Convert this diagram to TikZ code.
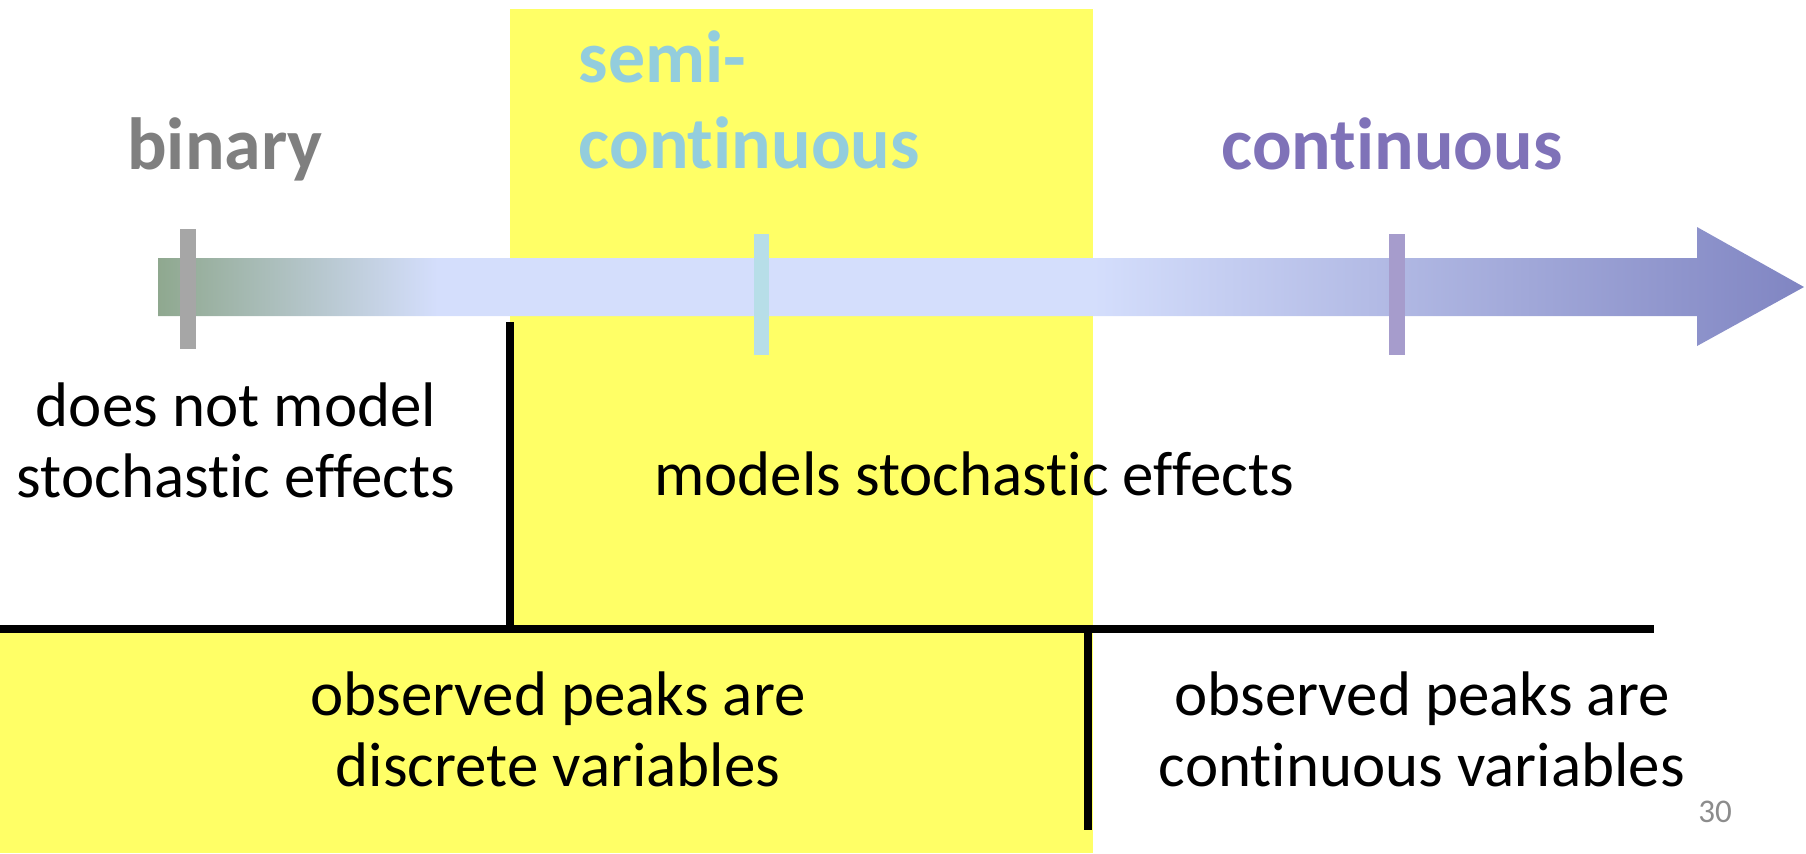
\documentclass[tikz,border=0pt]{standalone}
\usepackage{fontspec}
\setmainfont{Carlito}[Ligatures={NoCommon,NoRequired,NoContextual}]
\usepackage{tikz}
\usetikzlibrary{positioning, calc}
\definecolor{hdgray}{RGB}{127,127,127}
\definecolor{hdaqua}{RGB}{147,205,221}
\definecolor{hdpurple}{RGB}{127,114,184}
\definecolor{hiyellow}{RGB}{255,255,102}
\definecolor{tickgray}{RGB}{166,166,166}
\definecolor{tickaqua}{RGB}{183,222,232}
\definecolor{tickpurple}{RGB}{166,156,204}
\definecolor{pagegray}{RGB}{140,140,140}
\definecolor{shaftgreen}{RGB}{143,168,143}
\definecolor{shaftblue}{RGB}{212,222,252}
\definecolor{shaftpurple}{RGB}{128,133,194}
\pgfdeclarehorizontalshading{axisfade}{100bp}{color(0bp)=(shaftgreen); color(25bp)=(shaftgreen); color(33.5bp)=(shaftblue); color(53.4bp)=(shaftblue); color(75bp)=(shaftpurple); color(100bp)=(shaftpurple)}

\begin{document}
\begin{tikzpicture}[x=0.01cm, y=-0.01cm,
    heading/.style={font=\fontsize{21}{24.5}\selectfont\bfseries, inner sep=0pt},
    body/.style={font=\fontsize{17.9}{20.2}\selectfont, align=center, inner sep=0pt},
    divider/.style={line width=0.08cm}]
    \useasboundingbox (0,0) rectangle (1806,853);

    % yellow regions
    \fill[hiyellow] (510,9) rectangle (1093,631);
    \fill[hiyellow] (0,631) rectangle (1093,853);

    % gradient axis arrow
    \shade[shading=axisfade] (158,258) -- (1697,258) -- (1697,227) -- (1804,287)
        -- (1697,346) -- (1697,316) -- (158,316) -- cycle;

    % ticks on the axis
    \fill[tickgray] (180,229) rectangle (196,349);
    \fill[tickaqua] (754,234) rectangle (769,355);
    \fill[tickpurple] (1389,234) rectangle (1405,355);

    % headings
    \node[heading, hdgray, anchor=base] (binary) at (225,169) {binary};
    \node[heading, hdaqua, anchor=west, align=left] (semicont) at (578,100) {semi-\\continuous};
    \node[heading, hdpurple, anchor=base] (cont) at (1392,169) {continuous};

    % stochastic effects
    \node[body] (nostoch) at (236,440) {does not model\\stochastic effects};
    \node[body, anchor=base] (stoch) at (974,495) {models stochastic effects};

    % observed peaks
    \node[body] (discrete) at (558,729) {observed peaks are\\discrete variables};
    \node[body] (contvar) at (1422,729) {observed peaks are\\continuous variables};

    % divider lines
    \coordinate (lefttop) at (510,322);
    \coordinate (leftfoot) at (510,629);
    \coordinate (rowstart) at (0,629);
    \coordinate (rowend) at (1654,629);
    \coordinate (righttop) at (1088,629);
    \coordinate (rightfoot) at (1088,830);
    \draw[divider] (rowstart) -- (rowend);
    \draw[divider] (lefttop) -- (leftfoot);
    \draw[divider] (righttop) -- (rightfoot);

    % page number
    \node[font=\fontsize{9.4}{11}\selectfont, pagegray, anchor=base, inner sep=0pt] (pagenum) at (1715,822) {30};
\end{tikzpicture}
\end{document}
